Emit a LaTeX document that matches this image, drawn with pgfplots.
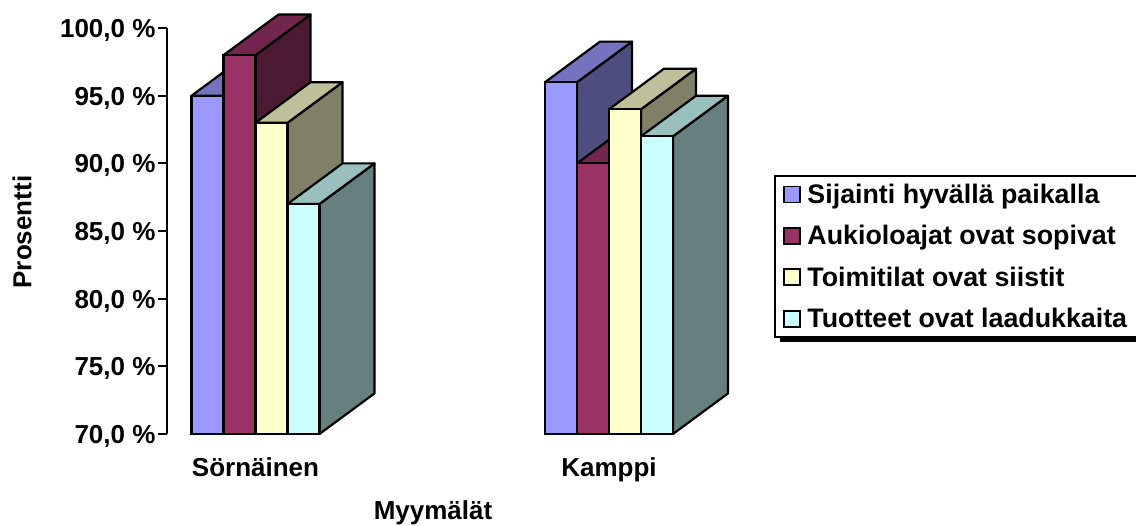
\documentclass[border=0pt]{standalone}
\usepackage{pgfplots}
\pgfplotsset{compat=1.18}
\usepackage{fontspec}
\setmainfont{Liberation Sans}

% Excel-style shades: front, top (3/4), side (1/2)
\definecolor{fa}{HTML}{9999FF}\definecolor{ta}{HTML}{7373BF}\definecolor{sa}{HTML}{4D4D80}
\definecolor{fb}{HTML}{993366}\definecolor{tb}{HTML}{73264D}\definecolor{sb}{HTML}{4D1A33}
\definecolor{fc}{HTML}{FFFFCC}\definecolor{tc}{HTML}{BFBF99}\definecolor{sc}{HTML}{808066}
\definecolor{fd}{HTML}{CCFFFF}\definecolor{td}{HTML}{99BFBF}\definecolor{sd}{HTML}{668080}

\def\barw{0.09052}   % bar width in category units
\def\depx{0.15559}   % depth offset along x
\def\depy{3}         % depth offset along y (percentage points)

% top and side faces of one bar: category, series slot, value, top colour, side colour
\newcommand{\barfaces}[5]{%
  \pgfmathsetmacro\xa{#1+(#2-2)*\barw}%
  \pgfmathsetmacro\xb{\xa+\barw}%
  \pgfmathsetmacro\xc{\xa+\depx}%
  \pgfmathsetmacro\xd{\xb+\depx}%
  \pgfmathsetmacro\yt{#3+\depy}%
  \pgfmathsetmacro\yb{70+\depy}%
  \edef\facecmd{%
    \noexpand\addplot[face,fill=#5,forget plot] coordinates {(\xb,70) (\xb,#3) (\xd,\yt) (\xd,\yb)} -- cycle;
    \noexpand\addplot[face,fill=#4,forget plot] coordinates {(\xa,#3) (\xb,#3) (\xd,\yt) (\xc,\yt)} -- cycle;
  }\facecmd}

\begin{document}
\begin{tikzpicture}
\path[use as bounding box] (-167pt,-92pt) rectangle (969pt,434pt);
% hard shadow behind the legend box
\fill[black] (613pt,92pt) rectangle (975pt,254pt);
\begin{axis}[
  x=353.5pt, y=13.53pt,
  xmin=-0.25035, xmax=1.3423, ymin=70, ymax=100,
  clip=false,
  axis lines=left,
  axis line style={-, line width=2pt},
  x axis line style={draw=none},
  xtick={0,1}, xticklabels={Sörnäinen,Kamppi},
  ytick={70,75,80,85,90,95,100},
  yticklabels={{70,0 \%},{75,0 \%},{80,0 \%},{85,0 \%},{90,0 \%},{95,0 \%},{100,0 \%}},
  tick align=outside,
  ytick style={black, line width=2pt},
  xtick style={draw=none},
  major tick length=9pt,
  tick label style={font=\fontsize{26}{30}\selectfont\bfseries},
  yticklabel style={xshift=1pt,yshift=-2.5pt},
  xticklabel style={yshift=-11pt},
  xlabel={Myymälät}, ylabel={Prosentti},
  every axis x label/.style={at={(axis description cs:0.4725,-0.193)},anchor=center,
    font=\fontsize{26}{30}\selectfont\bfseries},
  every axis y label/.style={at={(axis description cs:-0.2575,0.4975)},anchor=center,rotate=90,
    font=\fontsize{26}{30}\selectfont\bfseries},
  face/.style={draw=black,line width=2.2pt,line join=round},
  front/.style={ybar,bar width=32pt,bar shift=#1,draw=black,line width=2.2pt,
    legend image code/.code={\draw[line width=1.8pt] (0pt,-8pt) rectangle (16pt,8pt); \path (20pt,0pt);}},
  legend cell align=left,
  legend style={
    at={(axis description cs:1.079,0.638)},anchor=north west,
    draw=black,line width=2pt,fill=white,
    font=\fontsize{26.8}{30}\selectfont\bfseries,
    inner xsep=8pt,inner ysep=6pt,
    row sep=16.5pt,
  },
]
\barfaces{0}{0}{95}{ta}{sa}
\barfaces{1}{0}{96}{ta}{sa}
\addplot[front=-48pt,fill=fa] coordinates {(0,95) (1,96)};
\barfaces{0}{1}{98}{tb}{sb}
\barfaces{1}{1}{90}{tb}{sb}
\addplot[front=-16pt,fill=fb] coordinates {(0,98) (1,90)};
\barfaces{0}{2}{93}{tc}{sc}
\barfaces{1}{2}{94}{tc}{sc}
\addplot[front=16pt,fill=fc] coordinates {(0,93) (1,94)};
\barfaces{0}{3}{87}{td}{sd}
\barfaces{1}{3}{92}{td}{sd}
\addplot[front=48pt,fill=fd] coordinates {(0,87) (1,92)};
\legend{Sijainti hyvällä paikalla,Aukioloajat ovat sopivat,Toimitilat ovat siistit,Tuotteet ovat laadukkaita}
\end{axis}
\end{tikzpicture}
\end{document}
